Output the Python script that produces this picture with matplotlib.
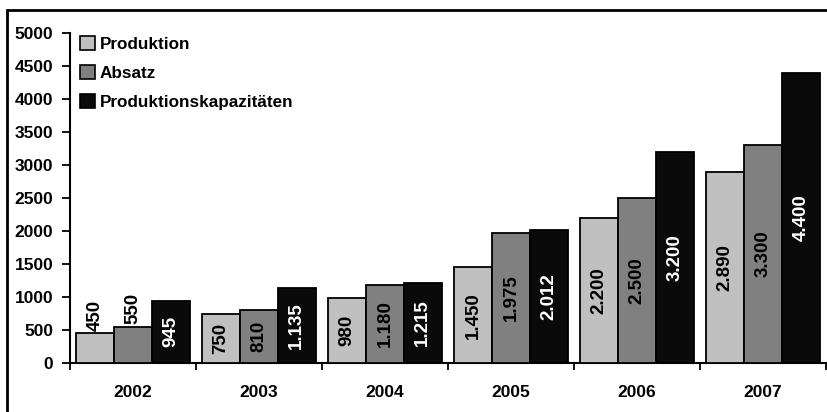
import matplotlib
matplotlib.use("Agg")
import matplotlib.pyplot as plt
import numpy as np
from matplotlib.patches import Rectangle, Patch

years = ["2002", "2003", "2004", "2005", "2006", "2007"]
series_names = ["Produktion", "Absatz", "Produktionskapazitäten"]
produktion = [450, 750, 980, 1450, 2200, 2890]
absatz = [550, 810, 1180, 1975, 2500, 3300]
kapazitaeten = [945, 1135, 1215, 2012, 3200, 4400]
yticks = [0, 500, 1000, 1500, 2000, 2500, 3000, 3500, 4000, 4500, 5000]

colors = ["#c0c0c0", "#808080", "#0a0a0a"]
text_colors = ["black", "black", "white"]

plt.rcParams['font.family'] = ['Liberation Sans', 'DejaVu Sans']
plt.rcParams['font.weight'] = 'bold'

fig = plt.figure(figsize=(8.27, 4.12), dpi=100)
ax = fig.add_axes([70/827, 49/412, 756/827, 330/412])

x = np.arange(len(years))
w = 0.3
all_series = [produktion, absatz, kapazitaeten]

def fmt(v):
    return f"{v:,}".replace(",", ".")

for i, (vals, c, tc) in enumerate(zip(all_series, colors, text_colors)):
    pos = x + (i - 1) * w
    ax.bar(pos, vals, width=w, color=c, edgecolor="black", linewidth=1.3, zorder=3)
    for p, v in zip(pos, vals):
        if v < 700:
            ax.text(p, v + 40, fmt(v), rotation=90, ha="center", va="bottom",
                    fontsize=13.5, fontweight="bold", color="black", zorder=4)
        else:
            ax.text(p, v / 2, fmt(v), rotation=90, ha="center", va="center",
                    fontsize=13.5, fontweight="bold", color=tc, zorder=4)

ax.set_xlim(-0.5, len(years) - 0.5)
ax.set_ylim(0, 5000)
ax.set_yticks(yticks)
ax.set_yticklabels([str(t) for t in yticks], fontsize=12.5, fontweight="bold")
ax.set_xticks(np.arange(len(years) + 1) - 0.5)
ax.set_xticklabels([])
ax.set_xticks(x, minor=True)
ax.set_xticklabels(years, minor=True, fontsize=12.5, fontweight="bold")
ax.tick_params(axis="x", which="minor", length=0, pad=16)
ax.tick_params(axis="x", which="major", length=5, width=1.3, direction="out")
ax.tick_params(axis="y", length=6, width=1.3, direction="out", pad=6)

for s in ["top", "right"]:
    ax.spines[s].set_visible(False)
for s in ["left", "bottom"]:
    ax.spines[s].set_linewidth(1.5)

handles = [Patch(facecolor=c, edgecolor="black", linewidth=1.2) for c in colors]
leg = fig.legend(handles, series_names, loc="upper left",
                 bbox_to_anchor=(80/827, 1 - 36/412), frameon=False,
                 handlelength=0.85, handleheight=0.85, handletextpad=0.3,
                 labelspacing=0.78, prop={"size": 12.3, "weight": "bold"},
                 borderpad=0, borderaxespad=0)

fig.patches.append(Rectangle((7/827, -0.02), 1.05, 1 - 10/412 + 0.02,
                             transform=fig.transFigure, fill=False,
                             edgecolor="black", linewidth=2, clip_on=False))

fig.savefig("out.png", dpi=100)
